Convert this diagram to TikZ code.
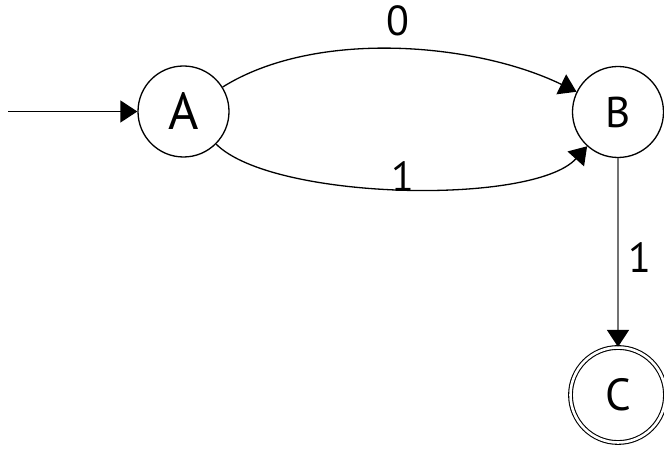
\documentclass[tikz,border=0pt]{standalone}
\usepackage{fontspec}
\setmainfont{PT Sans}
\usetikzlibrary{arrows.meta}

\begin{document}
\begin{tikzpicture}[
    x=1pt,
    y=1pt,
    state/.style={
        circle,
        draw,
        line width=1.3pt,
        minimum size=91pt,
        inner sep=0pt,
        font=\fontsize{43}{43}\selectfont,
        },
    accept/.style={
        state,
        double,
        double distance=2.6pt,
        line width=1.1pt,
        minimum size=95pt,
        },
    elabel/.style={
        font=\fontsize{42}{42}\selectfont,
        inner sep=1pt,
        },
    trans/.style={
        line width=1.3pt,
        -{Triangle[length=17pt,width=22pt]},
        },
    ]

    \useasboundingbox (0,0) rectangle (664,449);

    \node [state, font=\fontsize{52}{52}\selectfont] (A) at (183.5,337.5) {A};
    \node [state] (B) at (618,337) {B};
    \node [accept, font=\fontsize{45}{45}\selectfont] (C) at (618,54) {C};

    \coordinate (start) at (8,337.5);

    \draw [trans] (start) -- (A);
    \draw [trans] (A) to [out=32, in=154, looseness=0.8]
        node [elabel, above=12pt] (l0) {0} (B);
    \draw [trans] (A) to [out=-45, in=-132, looseness=0.55]
        node [elabel, above=-4pt] (l1) {1} (B);
    \draw [trans, draw=black!55, -{Triangle[length=17pt,width=22pt,color=black]}] (B) -- (C)
        node [elabel, midway, right=9pt, yshift=-5pt] (l2) {1};

\end{tikzpicture}
\end{document}
